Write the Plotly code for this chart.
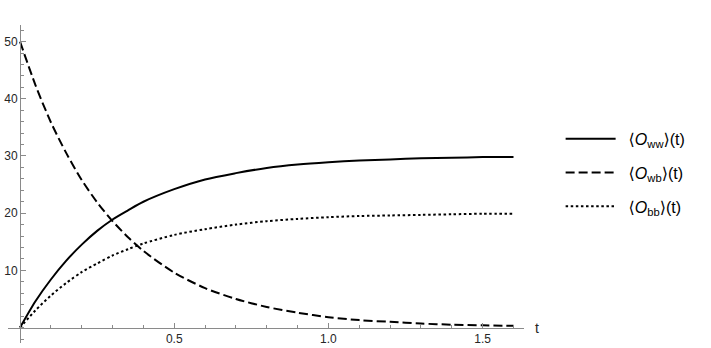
import plotly.graph_objects as go

# ---- data ----
t = [0, 0.05, 0.1, 0.15, 0.2, 0.25, 0.3, 0.35, 0.4, 0.5, 0.6, 0.7, 0.8, 0.9,
     1.0, 1.1, 1.2, 1.3, 1.4, 1.5, 1.6]
o_ww = [0, 4.6, 8.4, 11.7, 14.5, 16.9, 18.9, 20.5, 22.0, 24.2, 25.9, 27.0, 27.9,
        28.5, 28.9, 29.2, 29.4, 29.6, 29.7, 29.8, 29.8]
o_wb = [50, 42.4, 35.9, 30.5, 25.8, 21.9, 18.6, 15.8, 13.4, 9.6, 6.9, 5.0, 3.6,
        2.6, 1.8, 1.3, 1.0, 0.7, 0.5, 0.4, 0.3]
o_bb = [0, 3.0, 5.6, 7.8, 9.7, 11.2, 12.6, 13.7, 14.7, 16.2, 17.2, 18.0, 18.6,
        19.0, 19.3, 19.5, 19.6, 19.7, 19.8, 19.9, 19.9]
names = ["⟨<i>O</i><sub>ww</sub>⟩(t)",
         "⟨<i>O</i><sub>wb</sub>⟩(t)",
         "⟨<i>O</i><sub>bb</sub>⟩(t)"]
x_ticks = [0.5, 1.0, 1.5]
x_tick_labels = ["0.5", "1.0", "1.5"]
y_ticks = [10, 20, 30, 40, 50]
y_tick_labels = ["10", "20", "30", "40", "50"]
x_label = "t"

# ---- styling ----
X_RANGE = [-0.039, 1.634]
Y_RANGE = [-2.7, 52.9]
AXIS_COL = "#8a8a8a"
LABEL_COL = "#262626"
FONT = "Liberation Sans, Arial, DejaVu Sans, sans-serif"
dashes = ["solid", "9px,4px", "2.5px,2.6px"]
series = [o_ww, o_wb, o_bb]

fig = go.Figure()
for i, (ys, nm, d) in enumerate(zip(series, names, dashes)):
    fig.add_trace(go.Scatter(
        x=t, y=ys, mode="lines", name="\u2002" + nm, legendgroup=f"g{i}",
        line=dict(color="black", width=2, dash=d, shape="spline", smoothing=0.8),
        hoverinfo="skip",
    ))

xpos = (0 - X_RANGE[0]) / (X_RANGE[1] - X_RANGE[0])
ypos = (0 - Y_RANGE[0]) / (Y_RANGE[1] - Y_RANGE[0])

fig.update_layout(
    width=711, height=348,
    margin=dict(l=8, r=187, t=25, b=5),
    paper_bgcolor="white", plot_bgcolor="white",
    font=dict(family=FONT, color=LABEL_COL, size=12),
    showlegend=True,
    legend=dict(
        xref="container", yref="container",
        x=0.7885, y=0.65, xanchor="left", yanchor="top",
        font=dict(size=16, color="black", family=FONT),
        tracegroupgap=10, itemwidth=50,
        bgcolor="rgba(0,0,0,0)",
    ),
    xaxis=dict(
        range=X_RANGE, anchor="free", position=ypos,
        showgrid=False, zeroline=False, showline=True,
        linecolor=AXIS_COL, linewidth=1,
        tickmode="array", tickvals=x_ticks, ticktext=x_tick_labels,
        ticks="inside", ticklen=5, tickcolor=AXIS_COL, tickwidth=1,
        tickfont=dict(size=12, color=LABEL_COL),
        minor=dict(tickmode="linear", tick0=0, dtick=0.1, ticks="inside",
                   ticklen=3, tickcolor=AXIS_COL, tickwidth=1),
        automargin=False, fixedrange=True,
    ),
    yaxis=dict(
        range=Y_RANGE, anchor="free", position=xpos,
        showgrid=False, zeroline=False, showline=True,
        linecolor=AXIS_COL, linewidth=1,
        tickmode="array", tickvals=y_ticks, ticktext=y_tick_labels,
        ticks="inside", ticklen=5, tickcolor=AXIS_COL, tickwidth=1,
        tickfont=dict(size=12, color=LABEL_COL),
        minor=dict(tickmode="linear", tick0=0, dtick=2, ticks="inside",
                   ticklen=3, tickcolor=AXIS_COL, tickwidth=1),
        automargin=False, fixedrange=True,
    ),
)

fig.add_annotation(
    x=X_RANGE[1], y=0, xref="x", yref="y", text=x_label,
    showarrow=False, xanchor="left", yanchor="middle", xshift=9,
    font=dict(size=14, color=LABEL_COL, family=FONT),
)

fig.write_html("out.html")
